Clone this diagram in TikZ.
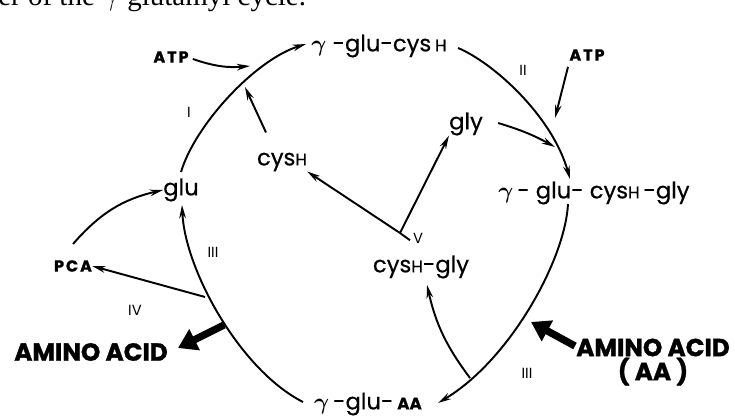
\documentclass[tikz,border=0pt]{standalone}
\usepackage{fontspec}
\setmainfont{Poppins}[FakeBold=1.2]
\newfontfamily\labfont{Poppins}[FakeBold=0.5]
\newfontfamily\numfont{Poppins}
\newfontfamily\capfont{Liberation Serif}
\usetikzlibrary{arrows.meta,calc}
\newcommand\smH{{\fontsize{12.5}{12}\selectfont H}}
\newcommand\smAA{{\fontsize{12.5}{12}\selectfont\bfseries AA}}
\newcommand\gam{{\boldmath$\gamma$}}
\begin{document}
\begin{tikzpicture}[x=0.75pt,y=-0.75pt,
  lab/.style={font=\labfont\fontsize{17}{19}\selectfont, inner sep=0pt},
  blab/.style={font=\fontsize{12}{13}\selectfont\bfseries\addfontfeature{LetterSpace=12}, inner sep=0pt},
  big/.style={font=\fontsize{18.5}{18}\selectfont\bfseries, inner sep=0pt, align=center},
  num/.style={font=\numfont\fontsize{11}{12}\selectfont, inner sep=0pt},
  ln/.style={line width=1.45pt},
  arr/.style={line width=1.45pt, -{Stealth[length=10pt,width=5pt]}},
  bigarr/.style={line width=5.5pt, -{Triangle[length=14pt,width=17pt]}}]
\useasboundingbox (0,0) rectangle (735,416);
% caption fragment
\begin{scope}
\clip (0,0) rectangle (735,416);
\node[anchor=base west, inner sep=0pt, font=\capfont\fontsize{21.75}{24}\selectfont] (cap) at (-2,6) {er of the $\gamma$-glutamyl cycle.};
\end{scope}
% labels
\node[lab] (gcys) at (379,46) {\gam\ -glu-cys\,\smH};
\node[blab] (atpl) at (171,57) {ATP};
\node[blab] (atpr) at (587,55) {ATP};
\node[lab] (gly) at (466,124) {gly};
\node[lab] (cysh) at (282,162) {cys\smH};
\node[lab] (glu) at (181,190) {glu};
\node[lab] (gcg) at (594,193) {\gam\,- glu- cys\smH\,-gly};
\node[blab] (pca) at (73,266) {PCA};
\node[lab] (cg) at (421,267) {cys\smH-gly};
\node[big] (aal) at (91,352) {AMINO ACID};
\node[big] (aar) at (653,362) {AMINO ACID\\( AA )};
\node[lab] (gaa) at (368,404) {\gam\,-glu-\,\smAA};
% roman numerals
\node[num] (n1) at (189,112) {I};
\node[num] (n2) at (523,70) {II};
\node[num] (n3a) at (213,252) {III};
\node[num] (n4) at (135,310) {IV};
\node[num] (n5) at (418,238) {V};
\node[num] (n3b) at (527,373) {III};
% attachment points
\coordinate (p1s) at (181,172);
\coordinate (p1e) at (306,44);
\coordinate (p2s) at (458,48);
\coordinate (p2e) at (570,179);
\coordinate (p3s) at (568,204);
\coordinate (p3e) at (438,403);
\coordinate (p4s) at (303,402);
\coordinate (p4e) at (182,205);
\coordinate (ka) at (250,66);
\coordinate (kc) at (245,87);
\coordinate (kr) at (555,118);
\coordinate (kg) at (555,147);
\coordinate (kp) at (205,297);
\coordinate (kb) at (470,378);
\coordinate (kt) at (427,285);
\coordinate (vb) at (400,233);
\coordinate (bl) at (224,325);
\coordinate (br) at (531,322);
\coordinate (brt) at (575,346);
% main cycle
\draw[arr] (p1s) .. controls (195,125) and (255,60) .. (p1e);
\draw[arr] (p2s) .. controls (492,62) and (552,115) .. (p2e);
\draw[arr] (p3s) .. controls (565,260) and (510,360) .. (p3e);
\draw[arr] (p4s) .. controls (240,370) and (185,270) .. (p4e);
% side arrows
\draw[arr] (atpl.east) ++(4,2) to[bend right=12] (ka);
\draw[arr] (cysh.north) ++(-16,-20) -- (kc);
\draw[arr] (atpr.south) ++(-19,6) -- (kr);
\draw[arr] (gly.east) ++(15,-1) to[bend left=6] (kg);
\draw[ln] (cg.north) ++(-11,-15) -- (vb);
\draw[arr] (vb) -- (cysh.south east);
\draw[arr] (vb) -- (gly.south west);
\draw[arr] (kb) to[bend left=12] (kt);
\draw[arr] (kp) -- (pca.east);
\draw[arr] (pca.north) ++(0,-16) to[bend left=18] (glu.west);
\draw[bigarr] (bl) -- ($(aal.east)+(10,-4)$);
\draw[bigarr] (brt) -- (br);
\end{tikzpicture}
\end{document}
